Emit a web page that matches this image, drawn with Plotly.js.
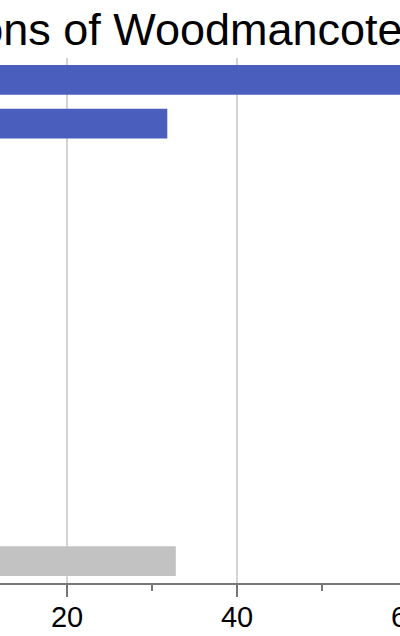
<!DOCTYPE html>
<html>
<head>
<meta charset="utf-8">
<script src="https://cdn.plot.ly/plotly-3.0.1.min.js"></script>
<style>
  html, body { margin: 0; padding: 0; overflow: hidden; width: 400px; height: 636px; background: #fff; }
  /* the reference is a crop of a wider chart, so the chart is drawn wider and shifted left */
  #chart { position: absolute; left: -300px; top: 0; width: 800px; height: 636px; }
</style>
</head>
<body>
<div id="chart"></div>
<script>
var categories = [
  "Professional",
  "Managerial and technical",
  "Skilled non-manual",
  "Skilled manual",
  "Partly skilled",
  "Unskilled",
  "Agriculture",
  "Domestic service",
  "Retail and trade",
  "Transport",
  "Armed forces",
  "Other"
];
var residents = [64, 31.8, 10, 9, 8, 7, 6, 5, 4, 3, 2, 32.8];
var barColors = [
  "#4a5fbd", "#4a5fbd", "#4a5fbd", "#4a5fbd", "#4a5fbd", "#4a5fbd",
  "#4a5fbd", "#4a5fbd", "#4a5fbd", "#4a5fbd", "#4a5fbd", "#c2c2c2"
];

var data = [
  {
    type: 'bar',
    orientation: 'h',
    y: categories,
    x: residents,
    marker: { color: barColors },
    hoverinfo: 'x+y'
  }
];

var layout = {
  width: 800,
  height: 636,
  margin: { l: 197, r: 8, t: 58, b: 53 },
  paper_bgcolor: '#fff',
  plot_bgcolor: '#fff',
  font: { family: 'Liberation Sans, Arial, sans-serif', color: '#000' },
  title: {
    text: 'Occupations of Woodmancote residents',
    font: { size: 45, color: '#000' },
    xref: 'container', x: 0.1258, xanchor: 'left',
    yref: 'container', y: 1 - 29 / 636, yanchor: 'middle'
  },
  bargap: 0.325,
  showlegend: false,
  xaxis: {
    range: [0, 70],
    dtick: 20,
    tick0: 0,
    ticks: 'outside',
    ticklen: 12,
    tickwidth: 1.5,
    tickcolor: '#777',
    showline: true,
    linecolor: '#777',
    linewidth: 1.5,
    showgrid: true,
    gridcolor: '#d3d3d3',
    gridwidth: 1.3,
    zeroline: false,
    tickfont: { size: 29, color: '#000' },
    ticklabelstandoff: -4,
    minor: { dtick: 10, ticks: 'outside', ticklen: 6, tickwidth: 1.5, tickcolor: '#777', showgrid: false }
  },
  yaxis: {
    autorange: 'reversed',
    showgrid: false,
    zeroline: false,
    ticks: '',
    tickfont: { size: 24, color: '#000' }
  }
};

var config = { responsive: false, displayModeBar: false, staticPlot: true };
Plotly.newPlot('chart', data, layout, config);
</script>
</body>
</html>
